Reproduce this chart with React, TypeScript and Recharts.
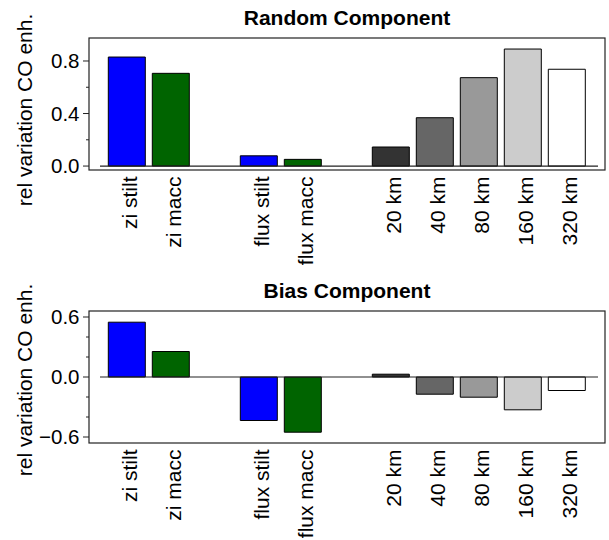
import React from "react";
import { BarChart, Bar, XAxis, YAxis, Cell, ReferenceLine } from "recharts";

const categories = ["zi stilt", "zi macc", " ", "flux stilt", "flux macc", "  ", "20 km", "40 km", "80 km", "160 km", "320 km"];
const randomValues = [0.83, 0.706, null, 0.078, 0.051, null, 0.145, 0.368, 0.673, 0.891, 0.737];
const biasValues = [0.548, 0.255, null, -0.435, -0.552, null, 0.028, -0.172, -0.202, -0.328, -0.135];
const barColors = ["#0000ff", "#006400", "#ffffff", "#0000ff", "#006400", "#ffffff", "#333333", "#666666", "#999999", "#cccccc", "#ffffff"];

const randomTicks = [0, 0.2, 0.4, 0.6, 0.8];
const randomMajor = [0, 0.4, 0.8];
const biasTicks = [-0.6, -0.4, -0.2, 0, 0.2, 0.4, 0.6];
const biasMajor = [-0.6, 0, 0.6];

const FONT = "'Liberation Sans', Arial, Helvetica, sans-serif";
const INK = "#222222";

const randomData = categories.map((name, i) => ({ name, value: randomValues[i] }));
const biasData = categories.map((name, i) => ({ name, value: biasValues[i] }));

const fmt = (v: number) => {
  const s = Math.abs(v) < 1e-9 ? "0.0" : v.toFixed(1);
  return s.replace("-", "\u2212");
};

const makeYTick = (majors: number[]) => (props: any) => {
  const { x, y, payload } = props;
  const v = payload.value as number;
  const major = majors.some((m) => Math.abs(m - v) < 1e-9);
  return (
    <g>
      <line x1={x - (major ? 6 : 3)} x2={x} y1={y} y2={y} stroke={INK} strokeWidth={1} />
      {major && (
        <text x={x - 9.5} y={y} dy="0.35em" textAnchor="end" fontFamily={FONT} fontSize={20.5} fill="#000">
          {fmt(v)}
        </text>
      )}
    </g>
  );
};

const XTick = (props: any) => {
  const { x, y, payload } = props;
  const ty = y + 6.5;
  return (
    <text
      x={x}
      y={ty}
      dy="0.46em"
      transform={`rotate(-90 ${x} ${ty})`}
      textAnchor="end"
      fontFamily={FONT}
      fontSize={21}
      fill="#000"
    >
      {payload.value}
    </text>
  );
};

// Draws the plot frame and the panel title from the x-axis viewBox.
const FrameAndTitle = (props: any) => {
  const { viewBox, title, top } = props;
  if (!viewBox) return null;
  const x = viewBox.x;
  const w = viewBox.width;
  const bottom = viewBox.y;
  return (
    <g>
      <rect x={x} y={top} width={w} height={bottom - top} fill="none" stroke={INK} strokeWidth={1.2} />
      <text
        x={x + w / 2}
        y={top - 13.5}
        textAnchor="middle"
        fontFamily={FONT}
        fontSize={21}
        fontWeight="bold"
        fill="#000"
      >
        {title}
      </text>
    </g>
  );
};

const YLabel = () => {
  const x = 31.5;
  const y = 110;
  return (
    <text
      x={x}
      y={y}
      transform={`rotate(-90 ${x} ${y})`}
      textAnchor="middle"
      fontFamily={FONT}
      fontSize={21}
      fill="#000"
    >
      rel variation CO enh.
    </text>
  );
};

const ZeroLine = (props: any) => {
  const { x1, x2, y1, y2 } = props;
  if (x1 == null || x2 == null) return null;
  return <line x1={Math.min(x1, x2) + 11} x2={Math.max(x1, x2) - 7} y1={y1} y2={y2} stroke={INK} strokeWidth={1.2} />;
};

type PanelProps = {
  data: { name: string; value: number | null }[];
  title: string;
  ticks: number[];
  majors: number[];
  domain: [number, number];
  top: number;
  xHeight: number;
};

const Panel = ({ data, title, ticks, majors, domain, top, xHeight }: PanelProps) => (
  <BarChart
    width={609}
    height={270}
    data={data}
    margin={{ top, right: 4, bottom: 0, left: 0 }}
    barCategoryGap="7.5%"
  >
    <XAxis
      dataKey="name"
      type="category"
      height={xHeight}
      padding={{ left: 16, right: 16 }}
      axisLine={false}
      tickLine={false}
      tickSize={0}
      tickMargin={0}
      interval={0}
      tick={<XTick />}
      label={<FrameAndTitle title={title} top={top} />}
    />
    <YAxis
      type="number"
      width={89}
      domain={domain}
      ticks={ticks}
      interval={0}
      allowDataOverflow
      axisLine={false}
      tickLine={false}
      tickSize={0}
      tickMargin={0}
      tick={makeYTick(majors)}
      label={<YLabel />}
    />
    <ReferenceLine y={0} shape={<ZeroLine />} />
    <Bar dataKey="value" stroke="#000" strokeWidth={1} isAnimationActive={false}>
      {data.map((d, i) => (
        <Cell key={i} fill={barColors[i]} />
      ))}
    </Bar>
  </BarChart>
);

export default function App() {
  return (
    <div style={{ position: "absolute", left: 0, top: 0, width: 609, height: 540, background: "#fff" }}>
      <Panel data={randomData} title="Random Component" ticks={randomTicks} majors={randomMajor} domain={[-0.03, 0.975]} top={38} xHeight={100} />
      <Panel data={biasData} title="Bias Component" ticks={biasTicks} majors={biasMajor} domain={[-0.66, 0.66]} top={41} xHeight={97} />
    </div>
  );
}
